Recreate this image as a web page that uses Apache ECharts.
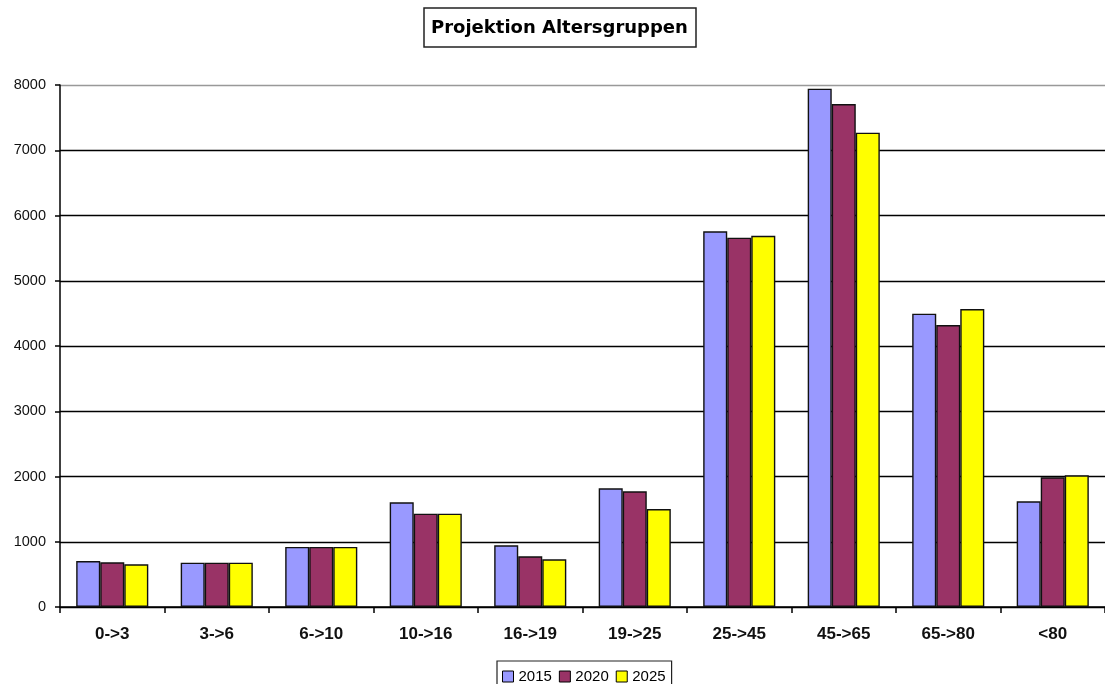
<!DOCTYPE html>
<html>
<head>
<meta charset="utf-8">
<script src="https://cdn.jsdelivr.net/npm/echarts@6/dist/echarts.min.js"></script>
<style>html,body{margin:0;padding:0;background:#fff;}#c{width:1105px;height:684px;}</style>
</head>
<body>
<div id="c"></div>
<script>
const categories = ['0->3','3->6','6->10','10->16','16->19','19->25','25->45','45->65','65->80','<80'];
const years = ['2015','2020','2025'];
const values2015 = [705, 680, 920, 1605, 945, 1819, 5758, 7943, 4495, 1620];
const values2020 = [685, 680, 920, 1430, 777, 1773, 5660, 7709, 4322, 1988];
const values2025 = [654, 680, 920, 1430, 731, 1502, 5690, 7269, 4567, 2018];
const colors = ['#9999FF', '#993366', '#FFFF00'];

const chart = echarts.init(document.getElementById('c'));
const seriesData = [values2015, values2020, values2025];
chart.setOption({
  animation: false,
  backgroundColor: '#fff',
  title: {
    text: 'Projektion Altersgruppen',
    left: 424,
    top: 8,
    padding: [10, 8, 9, 7],
    borderColor: '#222',
    borderWidth: 1.5,
    textStyle: { fontFamily: 'DejaVu Sans', fontWeight: 'bold', fontSize: 18, lineHeight: 20, color: '#000' }
  },
  legend: {
    data: years,
    top: 661,
    left: 497,
    padding: [8, 6, 8, 5],
    borderColor: '#222',
    borderWidth: 1.2,
    itemWidth: 11,
    itemHeight: 11,
    itemGap: 7,
    icon: 'rect',
    itemStyle: { borderColor: '#000', borderWidth: 1 },
    textStyle: { fontFamily: 'Liberation Sans', fontSize: 15, color: '#000', padding: [0, 0, 0, 0] }
  },
  grid: { left: 60, right: 0, top: 85, bottom: 77, containLabel: false },
  xAxis: {
    type: 'category',
    data: categories,
    axisLine: { lineStyle: { color: '#000', width: 1.5 } },
    axisTick: { show: true, length: 6, lineStyle: { color: '#000', width: 1.5 } },
    axisLabel: { fontFamily: 'Liberation Sans', fontWeight: 'bold', fontSize: 17, color: '#111', margin: 19 }
  },
  yAxis: {
    type: 'value',
    min: 0, max: 8000, interval: 1000,
    axisLine: { show: true, lineStyle: { color: '#000', width: 1.5 } },
    axisTick: { show: true, length: 5, lineStyle: { color: '#000', width: 1.5 } },
    axisLabel: { fontFamily: 'Liberation Sans', fontSize: 14.5, color: '#111', margin: 14, formatter: v => String(v) },
    splitLine: { show: true, lineStyle: { color: ['#000','#000','#000','#000','#000','#000','#000','#000','#999'], width: 1.4 } }
  },
  series: years.map((y, i) => ({
    name: y,
    type: 'bar',
    data: seriesData[i],
    barGap: '0%',
    barCategoryGap: '31%',
    itemStyle: { color: colors[i], borderColor: '#111', borderWidth: 1.4 }
  }))
});
</script>
</body>
</html>
